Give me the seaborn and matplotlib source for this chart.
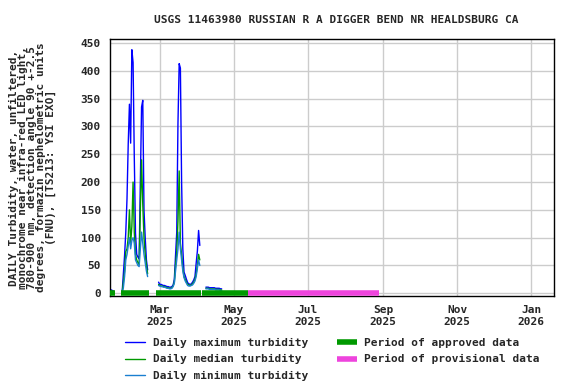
import numpy as np
import pandas as pd
import seaborn as sns
import matplotlib.pyplot as plt
import matplotlib.dates as mdates
from matplotlib.lines import Line2D

# daily values starting 2025-01-19 (nan = no data)
start = "2025-01-19"
nan = np.nan
daily_max = [7, 6, 5, 4, nan, nan, nan, nan, nan, nan, 2, 35, 68, 110, 170, 268, 340, 270, 438, 415,
             245, 108, 70, 65, 62, 200, 335, 347, 150, 100, 60, 42, nan, nan, nan, nan, nan, nan, nan, nan,
             20, 16, 16, 15, 14, 14, 13, 12, 12, 11, 11, 12, 15, 25, 68, 110, 306, 413, 405, 200,
             80, 38, 32, 25, 19, 17, 16, 17, 20, 24, 30, 54, 76, 113, 86, nan, nan, nan, nan, 11,
             11, 11, 10, 10, 10, 10, 10, 9, 9, 9, 9, 8, 8]
daily_med = [5, 4, 3, 3, nan, nan, nan, nan, nan, nan, 1, 20, 40, 75, 80, 100, 150, 90, 120, 200,
             110, 70, 60, 55, 52, 150, 240, 160, 100, 70, 50, 35, nan, nan, nan, nan, nan, nan, nan, nan,
             16, 14, 13, 13, 12, 12, 11, 10, 10, 9, 9, 10, 13, 20, 50, 75, 130, 220, 90, 70,
             45, 30, 25, 20, 16, 15, 14, 15, 17, 20, 25, 35, 50, 70, 60, nan, nan, nan, nan, 9,
             9, 9, 8, 8, 8, 8, 8, 7, 7, 7, 7, 6, 6]
daily_min = [4, 3, 2, 2, nan, nan, nan, nan, nan, nan, 0, 10, 30, 60, 70, 85, 100, 80, 95, 100,
             90, 60, 55, 50, 48, 80, 110, 90, 70, 55, 40, 30, nan, nan, nan, nan, nan, nan, nan, nan,
             14, 13, 12, 12, 11, 11, 10, 9, 9, 8, 8, 9, 12, 18, 40, 60, 80, 110, 80, 60,
             40, 28, 22, 18, 14, 13, 13, 14, 15, 18, 22, 30, 45, 60, 50, nan, nan, nan, nan, 8,
             8, 8, 7, 7, 7, 7, 7, 6, 6, 6, 6, 5, 5]

approved_start = ["2025-01-18", "2025-01-28", "2025-02-26", "2025-04-05"]
approved_end = ["2025-01-23", "2025-02-20", "2025-04-04", "2025-05-13"]
provisional_start = ["2025-05-13"]
provisional_end = ["2025-08-29"]

dates = pd.date_range(start, periods=len(daily_max), freq="D")
df = pd.DataFrame({"date": dates, "max": daily_max, "med": daily_med, "min": daily_min})
df["seg"] = df["max"].isna().cumsum()
df = df.dropna()

sns.set_style("white")
plt.rcParams["font.family"] = ["DejaVu Sans Mono"]
plt.rcParams["font.weight"] = "bold"
plt.rcParams["font.size"] = 8

fig = plt.figure(figsize=(5.76, 3.84), dpi=100)
ax = fig.add_axes([0.191, 0.229, 0.771, 0.669])

c_max, c_med, c_min = "#0000ff", "#009900", "#1a7fd0"
sns.lineplot(data=df, x="date", y="max", units="seg", estimator=None, color=c_max, lw=1, ax=ax)
sns.lineplot(data=df, x="date", y="med", units="seg", estimator=None, color=c_med, lw=1, ax=ax)
sns.lineplot(data=df, x="date", y="min", units="seg", estimator=None, color=c_min, lw=1, ax=ax)

for s, e in zip(approved_start, approved_end):
    ax.hlines(0, pd.Timestamp(s), pd.Timestamp(e), color="#009900", lw=4, zorder=5, capstyle="butt")
for s, e in zip(provisional_start, provisional_end):
    ax.hlines(0, pd.Timestamp(s), pd.Timestamp(e), color="#ee44dd", lw=4, zorder=5, capstyle="butt")

ax.set_xlim(pd.Timestamp("2025-01-19"), pd.Timestamp("2026-01-20"))
ax.set_ylim(-5, 457)
ax.set_yticks(range(0, 451, 50))
ax.xaxis.set_major_locator(mdates.MonthLocator(bymonth=[1, 3, 5, 7, 9, 11]))
ax.xaxis.set_major_formatter(mdates.DateFormatter("%b\n%Y"))
ax.grid(True, color="#cccccc", lw=1)
for sp in ax.spines.values():
    sp.set_color("black")
    sp.set_linewidth(1)
ax.tick_params(axis="both", length=3, color="black", labelsize=8)
for lab in ax.get_xticklabels() + ax.get_yticklabels():
    lab.set_fontweight("bold")
ax.set_xlabel("")
ax.set_ylabel("DAILY Turbidity, water, unfiltered,\nmonochrome near infra-red LED light,\n"
              "780-900 nm, detection angle 90 +-2.5\ndegrees, formazin nephelometric units\n"
              "(FNU), [TS213: YSI EXO]", fontsize=8, fontweight="bold", linespacing=0.9,
              labelpad=18)
ax.set_title("USGS 11463980 RUSSIAN R A DIGGER BEND NR HEALDSBURG CA", fontsize=8,
             fontweight="bold", pad=12, x=0.51)

handles = [Line2D([], [], color=c_max, lw=1), Line2D([], [], color=c_med, lw=1),
           Line2D([], [], color=c_min, lw=1),
           Line2D([], [], color="#009900", lw=4, solid_capstyle="butt"),
           Line2D([], [], color="#ee44dd", lw=4, solid_capstyle="butt"), Line2D([], [], alpha=0)]
labels = ["Daily maximum turbidity", "Daily median turbidity", "Daily minimum turbidity",
          "Period of approved data", "Period of provisional data", ""]
fig.legend(handles, labels, ncol=2, loc="upper left", bbox_to_anchor=(0.207, 0.135),
           frameon=False, prop={"size": 8, "weight": "bold"}, handlelength=1.8,
           columnspacing=2.6, labelspacing=0.6, borderpad=0, handletextpad=0.7)

fig.savefig("out.png", dpi=100)
